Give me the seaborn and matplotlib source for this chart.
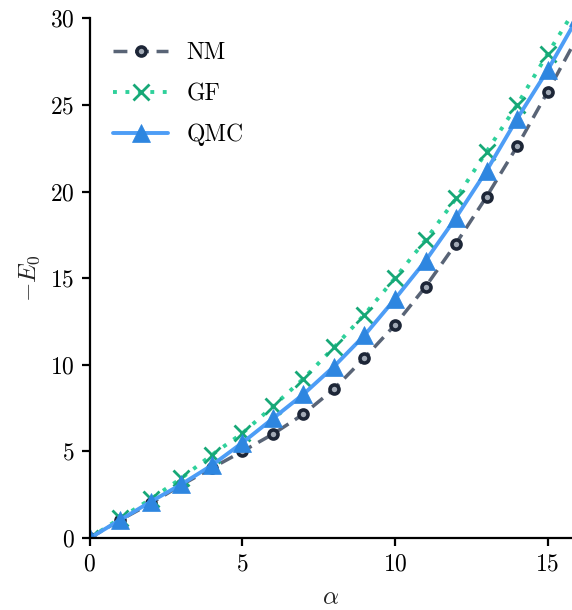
import seaborn as sns
import matplotlib.pyplot as plt
import pandas as pd

# alpha values (markers at integers, curve clipped by xlim)
alpha = list(range(0, 17))

# -E0
nm = [0.0, 1.04, 2.0, 3.06, 4.04, 5.0, 6.0, 7.15, 8.6, 10.4, 12.3, 14.5, 17.0, 19.7, 22.6, 25.75, 29.0]
gf = [0.0, 1.15, 2.25, 3.45, 4.8, 6.05, 7.6, 9.2, 11.0, 12.9, 15.0, 17.2, 19.6, 22.3, 25.0, 27.95, 30.8]
qmc = [0.0, 1.05, 2.1, 3.1, 4.2, 5.5, 6.9, 8.3, 9.9, 11.7, 13.8, 16.0, 18.5, 21.2, 24.2, 27.0, 30.1]

df = pd.DataFrame({"alpha": alpha, "NM": nm, "GF": gf, "QMC": qmc})

sns.set_style("ticks")
plt.rcParams["font.family"] = "serif"
plt.rcParams["font.serif"] = ["cmr10", "DejaVu Serif"]
plt.rcParams["mathtext.fontset"] = "cm"
plt.rcParams["axes.formatter.use_mathtext"] = True

fig = plt.figure(figsize=(5.72, 6.1), dpi=100)
ax = fig.add_axes([0.157, 0.118, 0.843, 0.852])

sns.lineplot(data=df, x="alpha", y="NM", ax=ax, label="NM",
             color="#596476", linestyle=(0, (4, 2.2)), linewidth=2.5,
             marker="o", markersize=6.5, markerfacecolor="#a2aab6",
             markeredgecolor="#1d2637", markeredgewidth=2.6)
sns.lineplot(data=df, x="alpha", y="GF", ax=ax, label="GF",
             color="#2fd19b", linestyle=(0, (1, 2.2)), linewidth=2.8,
             marker="x", markersize=12, markeredgecolor="#17a877",
             markeredgewidth=2.0)
sns.lineplot(data=df, x="alpha", y="QMC", ax=ax, label="QMC",
             color="#4d9df6", linestyle="-", linewidth=2.8,
             marker="^", markersize=13, markerfacecolor="#2e86e0",
             markeredgecolor="#2e86e0", markeredgewidth=0.5)

ax.set_xlim(0, 15.8)
ax.set_ylim(0, 30)
ax.set_xticks([0, 5, 10, 15])
ax.set_yticks([0, 5, 10, 15, 20, 25, 30])
ax.set_xlabel(r"$\alpha$", fontsize=18, labelpad=8)
ax.set_ylabel(r"$-E_0$", fontsize=18, labelpad=6)
ax.tick_params(labelsize=17, length=6, width=1.6, direction="out",
               color="black", labelcolor="black", pad=5)
for s in ["left", "bottom"]:
    ax.spines[s].set_linewidth(1.6)
    ax.spines[s].set_color("black")
sns.despine(ax=ax)

ax.legend(loc="upper left", frameon=False, fontsize=17, handlelength=2.3,
          borderaxespad=0.6, labelspacing=0.8, handletextpad=0.8,
          labelcolor="black")

fig.savefig("out.png", dpi=100)
